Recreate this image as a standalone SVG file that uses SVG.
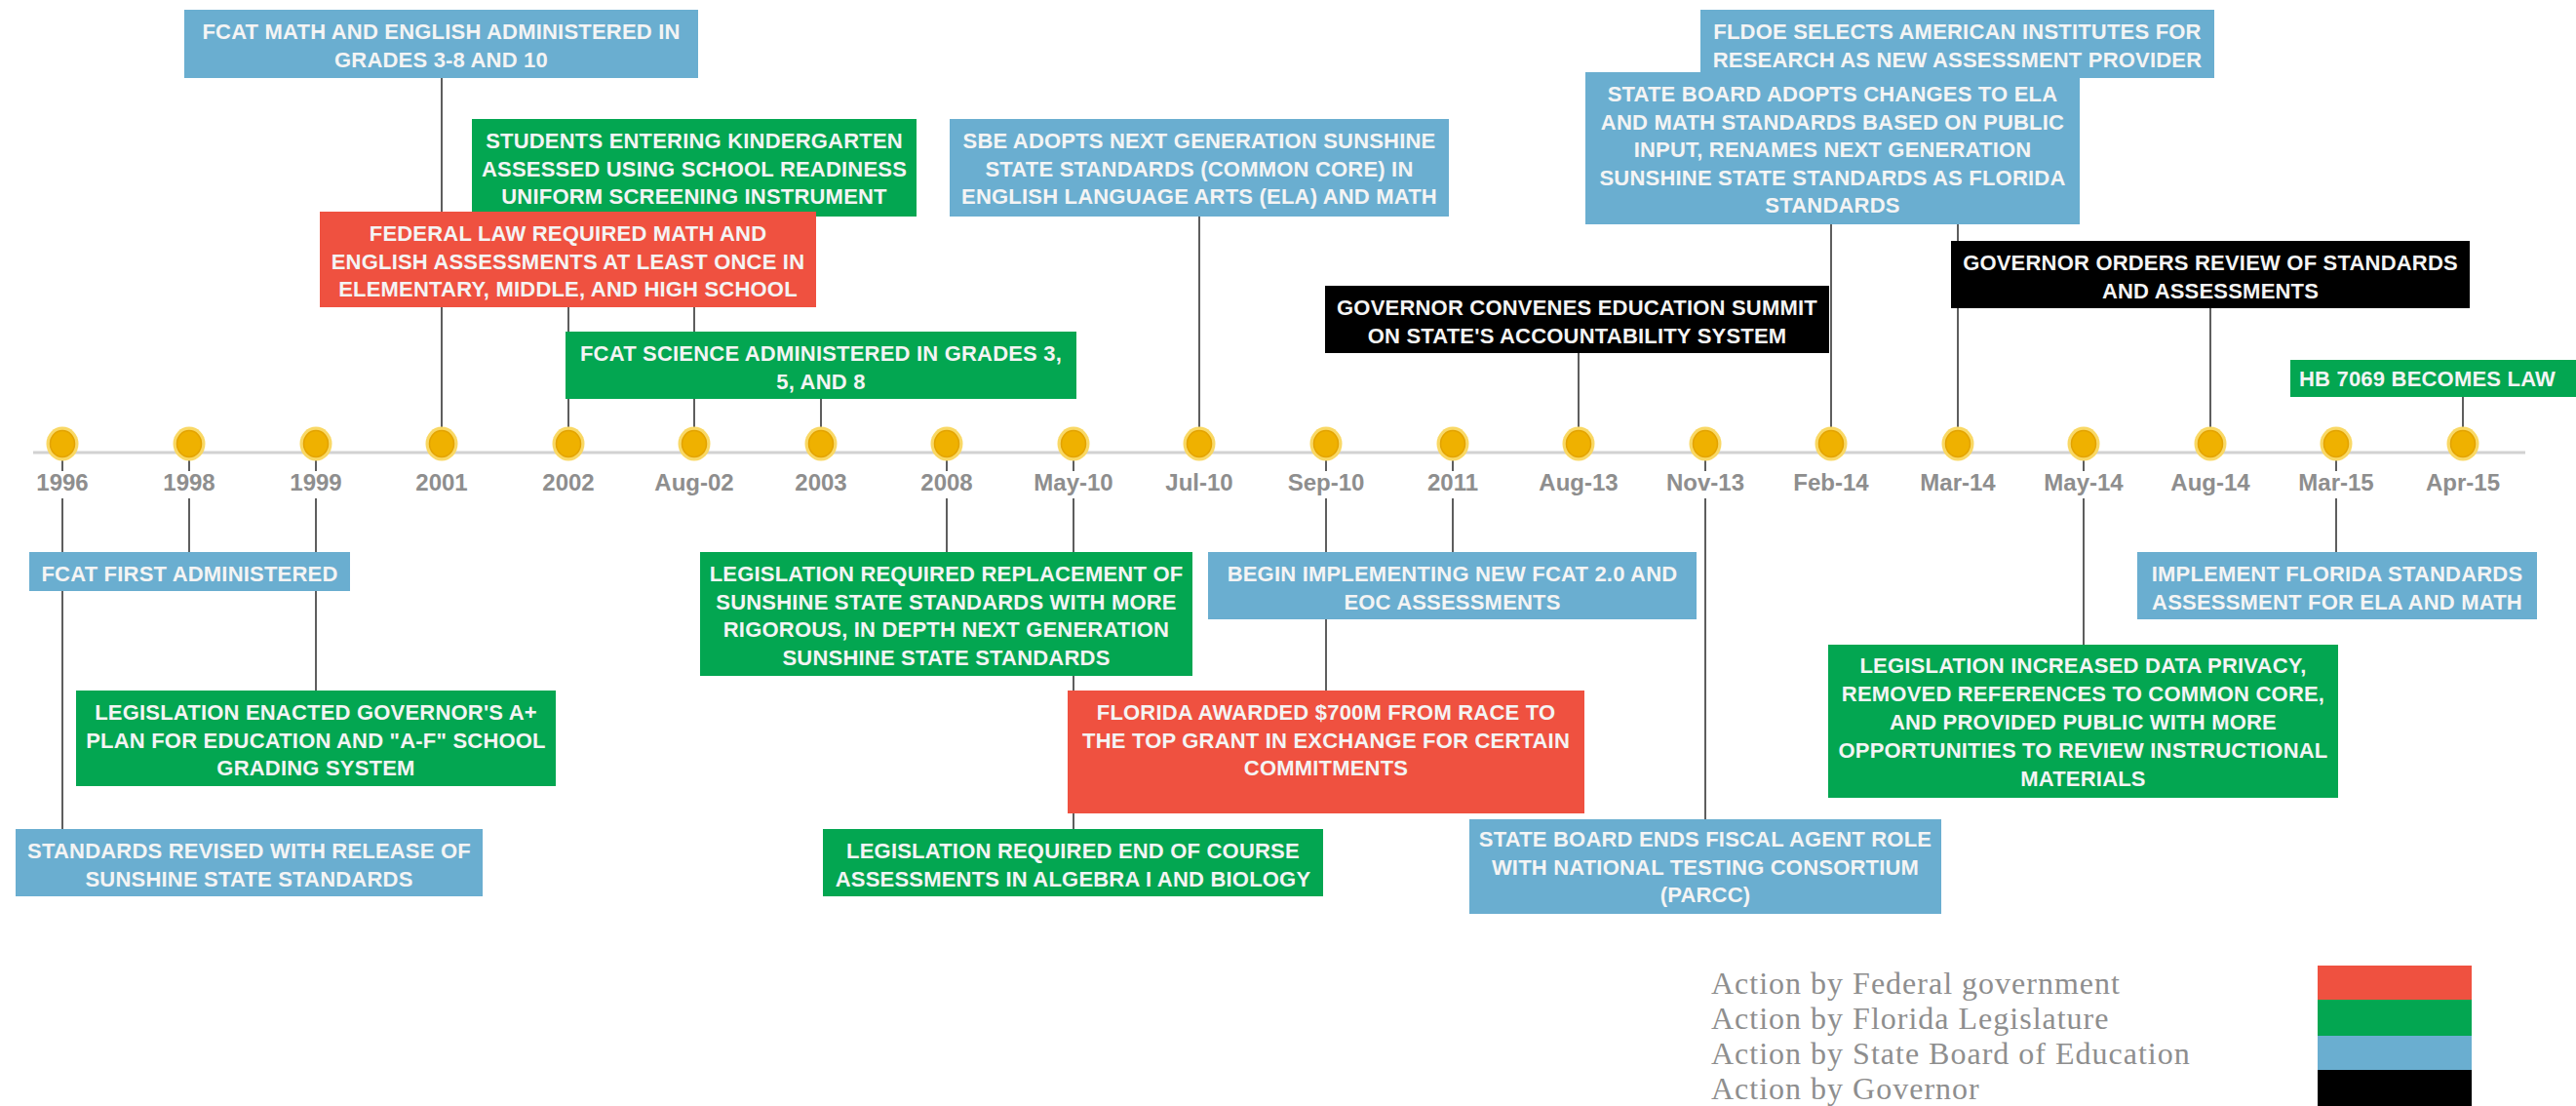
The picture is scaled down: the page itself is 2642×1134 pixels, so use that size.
<svg xmlns="http://www.w3.org/2000/svg" width="2642" height="1134" viewBox="0 0 2642 1134">
<style>
.blue{fill:#6aaed0}
.green{fill:#03a651}
.red{fill:#ef5140}
.black{fill:#000}
.bt{font-family:"Liberation Sans",Arial,sans-serif;font-weight:bold;font-size:22px;fill:#f4f4f4;text-anchor:middle;letter-spacing:0.2px}
.yr{font-family:"Liberation Sans",Arial,sans-serif;font-weight:bold;font-size:24px;fill:#8e8e8e;text-anchor:middle}
.conn line{stroke:#5e5e5e;stroke-width:2}
.leg{font-family:"Liberation Serif","Times New Roman",serif;font-size:32px;fill:#8e8e8e;letter-spacing:1px}
</style>
<defs>
<g id="dot">
<ellipse cx="0" cy="0" rx="16.5" ry="17.5" fill="#f9d865"/>
<ellipse cx="0" cy="0" rx="12.5" ry="13.5" fill="#efb100" stroke="#e3a300" stroke-width="1.5"/>
</g>
</defs>
<rect width="2642" height="1134" fill="#fff"/>
<line x1="34" y1="464" x2="2590" y2="464" stroke="#d2d2d2" stroke-width="3"/>
<g id="connectors" class="conn">
<line x1="453" y1="80" x2="453" y2="455"/>
<line x1="583" y1="315" x2="583" y2="455"/>
<line x1="712" y1="222" x2="712" y2="455"/>
<line x1="842" y1="409" x2="842" y2="455"/>
<line x1="1230" y1="222" x2="1230" y2="455"/>
<line x1="1619" y1="362" x2="1619" y2="455"/>
<line x1="1878" y1="230" x2="1878" y2="455"/>
<line x1="2008" y1="80" x2="2008" y2="455"/>
<line x1="2267" y1="316" x2="2267" y2="455"/>
<line x1="2526" y1="407" x2="2526" y2="455"/>
<line x1="64" y1="455" x2="64" y2="483"/><line x1="64" y1="511" x2="64" y2="850"/>
<line x1="194" y1="455" x2="194" y2="483"/><line x1="194" y1="511" x2="194" y2="566"/>
<line x1="324" y1="455" x2="324" y2="483"/><line x1="324" y1="511" x2="324" y2="708"/>
<line x1="971" y1="455" x2="971" y2="483"/><line x1="971" y1="511" x2="971" y2="566"/>
<line x1="1101" y1="455" x2="1101" y2="483"/><line x1="1101" y1="511" x2="1101" y2="850"/>
<line x1="1360" y1="455" x2="1360" y2="483"/><line x1="1360" y1="511" x2="1360" y2="708"/>
<line x1="1490" y1="455" x2="1490" y2="483"/><line x1="1490" y1="511" x2="1490" y2="566"/>
<line x1="1749" y1="455" x2="1749" y2="483"/><line x1="1749" y1="511" x2="1749" y2="840"/>
<line x1="2137" y1="455" x2="2137" y2="483"/><line x1="2137" y1="511" x2="2137" y2="661"/>
<line x1="2396" y1="455" x2="2396" y2="483"/><line x1="2396" y1="511" x2="2396" y2="566"/>
</g>
<g id="n-fcat-math"><rect class="blue" x="189" y="10" width="527" height="70"/>
<text class="bt"><tspan x="452.5" y="40">FCAT MATH AND ENGLISH ADMINISTERED IN</tspan><tspan x="452.5" y="68.5">GRADES 3-8 AND 10</tspan></text></g>
<g id="n-kindergarten"><rect class="green" x="484" y="122" width="456" height="100"/>
<text class="bt"><tspan x="712" y="152">STUDENTS ENTERING KINDERGARTEN</tspan><tspan x="712" y="180.5">ASSESSED USING SCHOOL READINESS</tspan><tspan x="712" y="209">UNIFORM SCREENING INSTRUMENT</tspan></text></g>
<g id="n-federal-law"><rect class="red" x="328" y="217" width="509" height="98"/>
<text class="bt"><tspan x="582.5" y="247">FEDERAL LAW REQUIRED MATH AND</tspan><tspan x="582.5" y="275.5">ENGLISH ASSESSMENTS AT LEAST ONCE IN</tspan><tspan x="582.5" y="304">ELEMENTARY, MIDDLE, AND HIGH SCHOOL</tspan></text></g>
<g id="n-fcat-science"><rect class="green" x="580" y="340" width="524" height="69"/>
<text class="bt"><tspan x="842" y="370">FCAT SCIENCE ADMINISTERED IN GRADES 3,</tspan><tspan x="842" y="398.5">5, AND 8</tspan></text></g>
<g id="n-sbe-adopts"><rect class="blue" x="974" y="122" width="512" height="100"/>
<text class="bt"><tspan x="1230" y="152">SBE ADOPTS NEXT GENERATION SUNSHINE</tspan><tspan x="1230" y="180.5">STATE STANDARDS (COMMON CORE) IN</tspan><tspan x="1230" y="209">ENGLISH LANGUAGE ARTS (ELA) AND MATH</tspan></text></g>
<g id="n-summit"><rect class="black" x="1359" y="293" width="517" height="69"/>
<text class="bt"><tspan x="1617.5" y="323">GOVERNOR CONVENES EDUCATION SUMMIT</tspan><tspan x="1617.5" y="351.5">ON STATE'S ACCOUNTABILITY SYSTEM</tspan></text></g>
<g id="n-fldoe"><rect class="blue" x="1744" y="10" width="527" height="70"/>
<text class="bt"><tspan x="2007.5" y="40">FLDOE SELECTS AMERICAN INSTITUTES FOR</tspan><tspan x="2007.5" y="68.5">RESEARCH AS NEW ASSESSMENT PROVIDER</tspan></text></g>
<g id="n-board-changes"><rect class="blue" x="1626" y="74" width="507" height="156"/>
<text class="bt"><tspan x="1879.5" y="104">STATE BOARD ADOPTS CHANGES TO ELA</tspan><tspan x="1879.5" y="132.5">AND MATH STANDARDS BASED ON PUBLIC</tspan><tspan x="1879.5" y="161">INPUT, RENAMES NEXT GENERATION</tspan><tspan x="1879.5" y="189.5">SUNSHINE STATE STANDARDS AS FLORIDA</tspan><tspan x="1879.5" y="218">STANDARDS</tspan></text></g>
<g id="n-gov-review"><rect class="black" x="2001" y="247" width="532" height="69"/>
<text class="bt"><tspan x="2267" y="277">GOVERNOR ORDERS REVIEW OF STANDARDS</tspan><tspan x="2267" y="305.5">AND ASSESSMENTS</tspan></text></g>
<g id="n-hb7069"><rect class="green" x="2349" y="369" width="293" height="38"/>
<text class="bt" style="text-anchor:start" x="2358" y="396">HB 7069 BECOMES LAW</text></g>
<g id="n-fcat-first"><rect class="blue" x="30" y="566" width="329" height="40"/>
<text class="bt" x="194.5" y="596">FCAT FIRST ADMINISTERED</text></g>
<g id="n-a-plus"><rect class="green" x="78" y="708" width="492" height="98"/>
<text class="bt"><tspan x="324" y="738">LEGISLATION ENACTED GOVERNOR'S A+</tspan><tspan x="324" y="766.5">PLAN FOR EDUCATION AND "A-F" SCHOOL</tspan><tspan x="324" y="795">GRADING SYSTEM</tspan></text></g>
<g id="n-standards-revised"><rect class="blue" x="16" y="850" width="479" height="69"/>
<text class="bt"><tspan x="255.5" y="880">STANDARDS REVISED WITH RELEASE OF</tspan><tspan x="255.5" y="908.5">SUNSHINE STATE STANDARDS</tspan></text></g>
<g id="n-replacement"><rect class="green" x="718" y="566" width="505" height="127"/>
<text class="bt"><tspan x="970.5" y="596">LEGISLATION REQUIRED REPLACEMENT OF</tspan><tspan x="970.5" y="624.5">SUNSHINE STATE STANDARDS WITH MORE</tspan><tspan x="970.5" y="653">RIGOROUS, IN DEPTH NEXT GENERATION</tspan><tspan x="970.5" y="681.5">SUNSHINE STATE STANDARDS</tspan></text></g>
<g id="n-race-top"><rect class="red" x="1095" y="708" width="530" height="126"/>
<text class="bt"><tspan x="1360" y="738">FLORIDA AWARDED $700M  FROM RACE TO</tspan><tspan x="1360" y="766.5">THE TOP GRANT  IN EXCHANGE FOR CERTAIN</tspan><tspan x="1360" y="795">COMMITMENTS</tspan></text></g>
<g id="n-eoc-law"><rect class="green" x="844" y="850" width="513" height="69"/>
<text class="bt"><tspan x="1100.5" y="880">LEGISLATION REQUIRED END OF COURSE</tspan><tspan x="1100.5" y="908.5">ASSESSMENTS IN ALGEBRA I AND BIOLOGY</tspan></text></g>
<g id="n-fcat2"><rect class="blue" x="1239" y="566" width="501" height="69"/>
<text class="bt"><tspan x="1489.5" y="596">BEGIN IMPLEMENTING NEW FCAT 2.0 AND</tspan><tspan x="1489.5" y="624.5">EOC ASSESSMENTS</tspan></text></g>
<g id="n-parcc"><rect class="blue" x="1507" y="840" width="484" height="97"/>
<text class="bt"><tspan x="1749" y="868">STATE BOARD ENDS FISCAL AGENT ROLE</tspan><tspan x="1749" y="896.5">WITH NATIONAL TESTING CONSORTIUM</tspan><tspan x="1749" y="925">(PARCC)</tspan></text></g>
<g id="n-fsa"><rect class="blue" x="2192" y="566" width="410" height="69"/>
<text class="bt"><tspan x="2397" y="596">IMPLEMENT  FLORIDA STANDARDS</tspan><tspan x="2397" y="624.5">ASSESSMENT FOR ELA AND MATH</tspan></text></g>
<g id="n-privacy"><rect class="green" x="1875" y="661" width="523" height="157"/>
<text class="bt"><tspan x="2136.5" y="690">LEGISLATION INCREASED DATA PRIVACY,</tspan><tspan x="2136.5" y="719">REMOVED REFERENCES TO COMMON CORE,</tspan><tspan x="2136.5" y="748">AND PROVIDED PUBLIC WITH MORE</tspan><tspan x="2136.5" y="777">OPPORTUNITIES TO REVIEW INSTRUCTIONAL</tspan><tspan x="2136.5" y="806">MATERIALS</tspan></text></g>
<g id="timeline-dots">
<use href="#dot" x="64" y="455"/><use href="#dot" x="194" y="455"/><use href="#dot" x="324" y="455"/><use href="#dot" x="453" y="455"/>
<use href="#dot" x="583" y="455"/><use href="#dot" x="712" y="455"/><use href="#dot" x="842" y="455"/><use href="#dot" x="971" y="455"/>
<use href="#dot" x="1101" y="455"/><use href="#dot" x="1230" y="455"/><use href="#dot" x="1360" y="455"/><use href="#dot" x="1490" y="455"/>
<use href="#dot" x="1619" y="455"/><use href="#dot" x="1749" y="455"/><use href="#dot" x="1878" y="455"/><use href="#dot" x="2008" y="455"/>
<use href="#dot" x="2137" y="455"/><use href="#dot" x="2267" y="455"/><use href="#dot" x="2396" y="455"/><use href="#dot" x="2526" y="455"/>
</g>
<g id="timeline-labels" class="yr">
<text x="64" y="503">1996</text><text x="194" y="503">1998</text><text x="324" y="503">1999</text><text x="453" y="503">2001</text>
<text x="583" y="503">2002</text><text x="712" y="503">Aug-02</text><text x="842" y="503">2003</text><text x="971" y="503">2008</text>
<text x="1101" y="503">May-10</text><text x="1230" y="503">Jul-10</text><text x="1360" y="503">Sep-10</text><text x="1490" y="503">2011</text>
<text x="1619" y="503">Aug-13</text><text x="1749" y="503">Nov-13</text><text x="1878" y="503">Feb-14</text><text x="2008" y="503">Mar-14</text>
<text x="2137" y="503">May-14</text><text x="2267" y="503">Aug-14</text><text x="2396" y="503">Mar-15</text><text x="2526" y="503">Apr-15</text>
</g>
<g id="legend">
<text class="leg" x="1755" y="1019">Action by Federal government</text>
<text class="leg" x="1755" y="1055">Action by Florida Legislature</text>
<text class="leg" x="1755" y="1091">Action by State Board of Education</text>
<text class="leg" x="1755" y="1127">Action by Governor</text>
<rect class="red" x="2377" y="990" width="158" height="35"/>
<rect class="green" x="2377" y="1025" width="158" height="37"/>
<rect class="blue" x="2377" y="1062" width="158" height="35"/>
<rect class="black" x="2377" y="1097" width="158" height="37"/>
</g>
</svg>
